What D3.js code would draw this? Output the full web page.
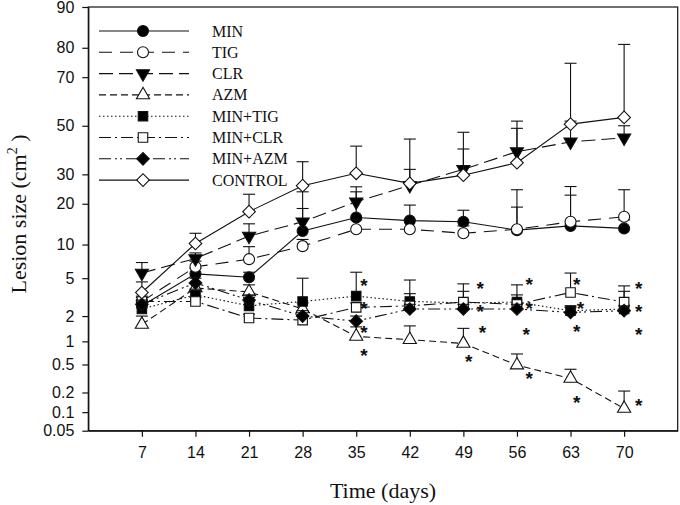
<!DOCTYPE html>
<html>
<head>
<meta charset="utf-8">
<script src="https://cdn.jsdelivr.net/npm/d3@7"></script>
<style>
  body { margin: 0; background: #fff; }
</style>
</head>
<body>
<svg id="chart"></svg>
<script>
// data (lesion size in cm^2, upper end of error bar)
const days = [7, 14, 21, 28, 35, 42, 49, 56, 63, 70];

const minMean = [2.6, 5.5, 5.1, 12.8, 16.1, 15.3, 15.0, 13.0, 14.0, 13.4];
const minUpper = [3.0, 6.2, 5.7, 18.6, 23.8, 19.6, 18.1, 19.0, 22.7, 15.5];
const tigMean = [2.9, 6.4, 7.5, 9.7, 13.2, 13.2, 12.3, 13.2, 15.0, 16.3];
const tigUpper = [3.3, 7.2, 9.6, 11.0, 15.5, 15.5, 14.0, 24.5, 25.6, 24.5];
const clrMean = [5.6, 7.6, 11.7, 15.0, 20.6, 26.0, 31.9, 39.0, 43.1, 44.8];
const clrUpper = [7.0, 8.5, 14.5, 23.8, 25.5, 31.9, 40.1, 48.9, 52.0, 50.0];
const azmMean = [1.6, 4.0, 3.65, 2.4, 1.15, 1.05, 0.94, 0.49, 0.32, 0.114];
const azmUpper = [2.0, 4.5, 4.3, 2.8, 1.5, 1.54, 1.44, 0.69, 0.43, 0.21];
const minTigMean = [2.4, 3.4, 2.6, 2.9, 3.3, 2.9, 2.8, 2.85, 2.3, 2.4];
const minTigUpper = [2.9, 3.9, 3.2, 5.0, 5.7, 4.8, 4.4, 4.3, 2.6, 3.7];
const minClrMean = [2.9, 2.9, 1.9, 1.8, 2.5, 2.6, 2.85, 2.7, 3.6, 2.85];
const minClrUpper = [3.2, 3.2, 2.1, 2.0, 2.8, 3.5, 3.7, 3.4, 5.6, 4.2];
const minAzmMean = [2.7, 4.5, 3.0, 2.0, 1.75, 2.4, 2.4, 2.4, 2.2, 2.3];
const minAzmUpper = [3.0, 5.0, 3.4, 2.3, 2.0, 2.7, 2.7, 2.7, 2.5, 2.6];
const controlMean = [3.6, 10.2, 17.7, 25.9, 30.4, 26.7, 29.7, 34.5, 50.7, 53.6];
const controlUpper = [4.6, 12.3, 23.0, 34.9, 41.3, 44.3, 47.2, 52.0, 75.0, 81.0];

const seriesNames = ["MIN", "TIG", "CLR", "AZM", "MIN+TIG", "MIN+CLR", "MIN+AZM", "CONTROL"];

// significance marks (day, lesion size)
const starDays = [36, 36, 36, 36, 51.2, 51.2, 51.5, 49.7, 57.6, 57.6, 57.2, 57.6, 63.8, 64.3, 63.8, 63.8, 71.9, 71.9, 71.9, 71.9];
const starValues = [4.8, 2.75, 1.5, 0.78, 4.5, 2.6, 1.5, 0.65, 4.9, 2.8, 1.4, 0.385, 4.9, 2.8, 1.53, 0.17, 4.5, 2.6, 1.4, 0.154];

const yTicks = [0.05, 0.1, 0.2, 0.5, 1, 2, 5, 10, 20, 30, 50, 70, 80, 90];

// series styles
const styles = [
  { dash: null, shape: d3.symbolCircle, fill: "#000", size: 95, rot: 0 },
  { dash: "13,8", shape: d3.symbolCircle, fill: "#fff", size: 95, rot: 0 },
  { dash: "14,6", shape: d3.symbolTriangle, fill: "#000", size: 75, rot: 180 },
  { dash: "7,4", shape: d3.symbolTriangle, fill: "#fff", size: 75, rot: 0 },
  { dash: "1.5,2.5", shape: d3.symbolSquare, fill: "#000", size: 90, rot: 0 },
  { dash: "12,4,2,4", shape: d3.symbolSquare, fill: "#fff", size: 90, rot: 0 },
  { dash: "12,4,2,3,2,4", shape: d3.symbolSquare, fill: "#000", size: 80, rot: 45 },
  { dash: null, shape: d3.symbolSquare, fill: "#fff", size: 80, rot: 45 }
];

const means = [minMean, tigMean, clrMean, azmMean, minTigMean, minClrMean, minAzmMean, controlMean];
const uppers = [minUpper, tigUpper, clrUpper, azmUpper, minTigUpper, minClrUpper, minAzmUpper, controlUpper];

// inverse normal cdf (probability axis)
function probit(p) {
  const a = [-3.969683028665376e+01, 2.209460984245205e+02, -2.759285104469687e+02, 1.383577518672690e+02, -3.066479806614716e+01, 2.506628277459239e+00];
  const b = [-5.447609879822406e+01, 1.615858368580409e+02, -1.556989798598866e+02, 6.680131188771972e+01, -1.328068155288572e+01];
  const c = [-7.784894002430293e-03, -3.223964580411365e-01, -2.400758277161838e+00, -2.549732539343734e+00, 4.374664141464968e+00, 2.938163982698783e+00];
  const d = [7.784695709041462e-03, 3.224671290700398e-01, 2.445134137142996e+00, 3.754408661907416e+00];
  const plow = 0.02425, phigh = 1 - plow;
  let q, r;
  if (p < plow) {
    q = Math.sqrt(-2 * Math.log(p));
    return (((((c[0]*q+c[1])*q+c[2])*q+c[3])*q+c[4])*q+c[5]) / ((((d[0]*q+d[1])*q+d[2])*q+d[3])*q+1);
  }
  if (p > phigh) {
    q = Math.sqrt(-2 * Math.log(1 - p));
    return -(((((c[0]*q+c[1])*q+c[2])*q+c[3])*q+c[4])*q+c[5]) / ((((d[0]*q+d[1])*q+d[2])*q+d[3])*q+1);
  }
  q = p - 0.5; r = q * q;
  return (((((a[0]*r+a[1])*r+a[2])*r+a[3])*r+a[4])*r+a[5])*q / (((((b[0]*r+b[1])*r+b[2])*r+b[3])*r+b[4])*r+1);
}

const W = 680, H = 505;
const plotLeft = 88.3, plotRight = 677.7, plotTop = 7, plotBottom = 430.7;

const svg = d3.select("#chart").attr("width", W).attr("height", H);

const xScale = d3.scaleLinear().domain([0, 77]).range([plotLeft, plotRight]);
const zScale = d3.scaleLinear().domain([probit(0.0005), probit(0.9)]).range([plotBottom, plotTop]);
const yScale = v => zScale(probit(v / 100));

const ink = "#111";

// frame
svg.append("rect")
  .attr("x", plotLeft).attr("y", plotTop)
  .attr("width", plotRight - plotLeft).attr("height", plotBottom - plotTop)
  .attr("fill", "none").attr("stroke", ink).attr("stroke-width", 1.2);

// x axis
const xAxis = svg.append("g")
  .attr("transform", `translate(0,${plotBottom})`)
  .call(d3.axisBottom(xScale).tickValues(days).tickSize(6).tickSizeOuter(0).tickPadding(10));

// y axis
const yAxis = svg.append("g")
  .attr("transform", `translate(${plotLeft},0)`)
  .call(d3.axisLeft(zScale)
    .tickValues(yTicks.map(v => probit(v / 100)))
    .tickFormat((d, i) => yTicks[i])
    .tickSize(6).tickSizeOuter(0).tickPadding(8));

[xAxis, yAxis].forEach(g => {
  g.select(".domain").attr("stroke", ink).attr("stroke-width", 1.2);
  g.selectAll(".tick line").attr("stroke", ink).attr("stroke-width", 1.2);
  g.selectAll(".tick text")
    .attr("fill", ink)
    .style("font-family", "'Liberation Sans', Arial, sans-serif")
    .style("font-size", "16px");
});

// axis titles
svg.append("text")
  .attr("x", 383).attr("y", 498)
  .attr("text-anchor", "middle")
  .style("font-family", "'Liberation Serif', 'Times New Roman', serif")
  .style("font-size", "22px")
  .attr("fill", ink)
  .text("Time (days)");

const yTitle = svg.append("text")
  .attr("transform", "translate(26,214) rotate(-90)")
  .attr("text-anchor", "middle")
  .style("font-family", "'Liberation Serif', 'Times New Roman', serif")
  .style("font-size", "22px")
  .attr("fill", ink);
yTitle.append("tspan").text("Lesion size (cm");
yTitle.append("tspan").attr("dy", -9).style("font-size", "14px").text("2");
yTitle.append("tspan").attr("dy", 9).text(" )");

const line = d3.line()
  .x((d, i) => xScale(days[i]))
  .y(d => yScale(d));

const symbolPath = (st) => d3.symbol().type(st.shape).size(st.size)();

const plot = svg.append("g");

means.forEach((vals, s) => {
  const st = styles[s];
  const g = plot.append("g");

  // error bars (upper only)
  const eb = g.selectAll(".eb").data(vals).enter().append("g");
  eb.append("line")
    .attr("x1", (d, i) => xScale(days[i])).attr("x2", (d, i) => xScale(days[i]))
    .attr("y1", d => yScale(d)).attr("y2", (d, i) => yScale(uppers[s][i]))
    .attr("stroke", ink).attr("stroke-width", 1.1);
  eb.append("line")
    .attr("x1", (d, i) => xScale(days[i]) - 6).attr("x2", (d, i) => xScale(days[i]) + 6)
    .attr("y1", (d, i) => yScale(uppers[s][i])).attr("y2", (d, i) => yScale(uppers[s][i]))
    .attr("stroke", ink).attr("stroke-width", 1.1);

  g.append("path")
    .datum(vals)
    .attr("fill", "none")
    .attr("stroke", ink)
    .attr("stroke-width", 1.1)
    .attr("stroke-dasharray", st.dash)
    .attr("d", line);

  g.selectAll(".pt").data(vals).enter().append("path")
    .attr("d", symbolPath(st))
    .attr("transform", (d, i) => `translate(${xScale(days[i])},${yScale(d)}) rotate(${st.rot})`)
    .attr("fill", st.fill)
    .attr("stroke", ink)
    .attr("stroke-width", 1.1);
});

// asterisks
svg.append("g").selectAll("text").data(starValues).enter().append("text")
  .attr("x", (d, i) => xScale(starDays[i]))
  .attr("y", d => yScale(d))
  .attr("dy", "0.62em")
  .attr("text-anchor", "middle")
  .style("font-family", "'Liberation Sans', Arial, sans-serif")
  .style("font-size", "19px")
  .style("font-weight", "bold")
  .attr("fill", ink)
  .text("*");

// legend
const legend = svg.append("g");
seriesNames.forEach((name, i) => {
  const st = styles[i];
  const ly = 31 + i * 21.3;
  legend.append("line")
    .attr("x1", 99).attr("x2", 189).attr("y1", ly).attr("y2", ly)
    .attr("stroke", ink).attr("stroke-width", 1.1)
    .attr("stroke-dasharray", st.dash);
  legend.append("path")
    .attr("d", symbolPath(st))
    .attr("transform", `translate(143,${ly}) rotate(${st.rot})`)
    .attr("fill", st.fill).attr("stroke", ink).attr("stroke-width", 1.1);
  legend.append("text")
    .attr("x", 212).attr("y", ly + 5.5)
    .style("font-family", "'Liberation Serif', 'Times New Roman', serif")
    .style("font-size", "16px")
    .attr("fill", ink)
    .text(name);
});
</script>
</body>
</html>
